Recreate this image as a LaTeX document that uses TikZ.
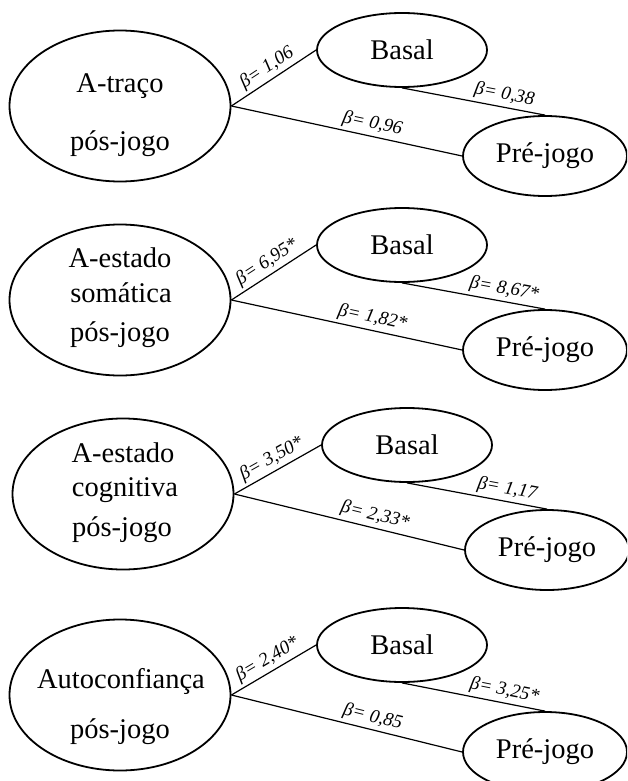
\documentclass[tikz,border=0pt]{standalone}
\usepackage{fontspec}
\setmainfont{Liberation Serif}
\usetikzlibrary{shapes.geometric}

\begin{document}
\begin{tikzpicture}[x=1pt, y=-1pt,
    every node/.style={font=\fontsize{28.5}{34}\selectfont},
    latent/.style={draw, ellipse, line width=1.8pt, minimum width=221pt, minimum height=151pt, inner sep=0pt},
    basal/.style={draw, ellipse, line width=1.8pt, minimum width=170pt, minimum height=74pt, inner sep=0pt},
    prejogo/.style={draw, ellipse, line width=1.8pt, minimum width=164pt, minimum height=80pt, inner sep=0pt},
    word/.style={anchor=base, inner sep=0pt},
    beta/.style={font=\fontsize{19}{22}\selectfont\itshape, above, sloped, inner sep=3pt},
    link/.style={line width=1.2pt}]
    \clip (0, 0) rectangle (627, 781);

    \node[latent] (pos1) at (120, 106) {};
    \node[word] (pos1a) at (120, 93) {A-traço};
    \node[word] (pos1b) at (120, 150) {pós-jogo};
    \node[basal] (bas1) at (402, 50) {Basal};
    \node[prejogo] (pre1) at (545, 156) {Pré-jogo};

    \node[latent] (pos2) at (120, 300) {};
    \node[word] (pos2a) at (120, 267) {A-estado};
    \node[word] (pos2b) at (121, 302) {somática};
    \node[word] (pos2c) at (120, 341) {pós-jogo};
    \node[basal] (bas2) at (402, 245) {Basal};
    \node[prejogo] (pre2) at (545, 350) {Pré-jogo};

    \node[latent] (pos3) at (123, 494) {};
    \node[word] (pos3a) at (123, 462) {A-estado};
    \node[word] (pos3b) at (125, 496) {cognitiva};
    \node[word] (pos3c) at (122, 536) {pós-jogo};
    \node[basal] (bas3) at (407, 445) {Basal};
    \node[prejogo] (pre3) at (547, 550) {Pré-jogo};

    \node[latent] (pos4) at (120, 695) {};
    \node[word] (pos4a) at (121, 688) {Autoconfiança};
    \node[word] (pos4b) at (120, 738) {pós-jogo};
    \node[basal] (bas4) at (402, 645) {Basal};
    \node[prejogo] (pre4) at (545, 752) {Pré-jogo};

    \draw[link]
    (pos1.east) edge node[beta, pos=0.5] {β= 1,06} (bas1.west)
    (pos1.east) edge node[beta, pos=0.6] {β= 0,96} (pre1.west)
    (bas1.south) edge node[beta, pos=0.7] {β= 0,38} (pre1.north)
    (pos2.east) edge node[beta, pos=0.5] {β= 6,95*} (bas2.west)
    (pos2.east) edge node[beta, pos=0.6] {β= 1,82*} (pre2.west)
    (bas2.south) edge node[beta, pos=0.7] {β= 8,67*} (pre2.north)
    (pos3.east) edge node[beta, pos=0.5] {β= 3,50*} (bas3.west)
    (pos3.east) edge node[beta, pos=0.6] {β= 2,33*} (pre3.west)
    (bas3.south) edge node[beta, pos=0.7] {β= 1,17} (pre3.north)
    (pos4.east) edge node[beta, pos=0.5] {β= 2,40*} (bas4.west)
    (pos4.east) edge node[beta, pos=0.6] {β= 0,85} (pre4.west)
    (bas4.south) edge node[beta, pos=0.7] {β= 3,25*} (pre4.north);
\end{tikzpicture}
\end{document}
